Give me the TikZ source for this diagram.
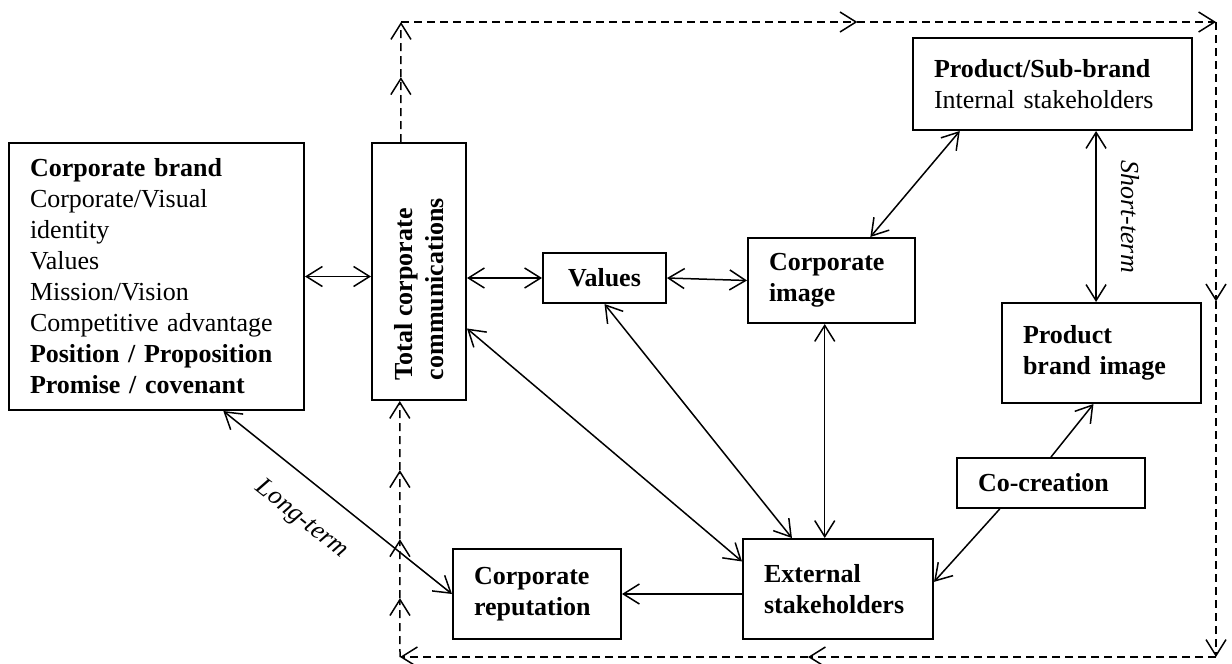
\documentclass[tikz,border=0pt]{standalone}
\usepackage{fontspec}
\setmainfont{Liberation Serif}
\usepackage{graphicx}
\usetikzlibrary{arrows.meta, positioning, calc}
\newcommand\diagfont{\fontsize{13}{15.5}\selectfont}
\tikzset{
    block/.style={rectangle, draw, line width=1pt, inner xsep=10.5pt, inner ysep=0pt, font=\diagfont\bfseries},
    block_text/.style={block, align=left},
    biarrow/.style={{Straight Barb[length=8pt,width=10pt]}-{Straight Barb[length=8pt,width=10pt]}, line width=0.75pt},
    arrow/.style={-{Straight Barb[length=8pt,width=10pt]}, line width=0.75pt},
    dasharrow/.style={arrow, dash pattern=on 4pt off 2.5pt},
    termlabel/.style={font=\diagfont\itshape}
}

\begin{document}
\begin{tikzpicture}[x=0.5pt, y=-0.5pt]
    \useasboundingbox (0,0) rectangle (1232,664);

    \node (brand) [block_text, text width=126.5pt, minimum height=133.5pt] at (156.5,276.5) {Corporate brand\\ \mdseries Corporate/Visual\\ identity\\ Values\\ Mission/Vision\\ Competitive advantage\\ \bfseries Position / Proposition\\ Promise / covenant};
    \node (tcc) [block, inner xsep=0pt, minimum width=47pt, minimum height=128.5pt] at (419,271.5) {\rotatebox{90}{\parbox{108.5pt}{\raggedright Total corporate\\communications}}};
    \node (values) [block, minimum width=61.5pt, minimum height=25pt] at (604.5,278) {Values};
    \node (cimage) [block_text, text width=62.5pt, minimum height=42.5pt] at (831.5,280.5) {Corporate\\image};
    \node (psub) [block_text, text width=118.5pt, minimum height=46pt] at (1052.5,84) {Product/Sub-brand\\ \mdseries Internal stakeholders};
    \node (pbimage) [block_text, text width=78.5pt, minimum height=50pt] at (1101.5,353) {Product\\brand image};
    \node (cocre) [block_text, text width=73pt, minimum height=25pt] at (1051,483) {Co-creation};
    \node (exts) [block_text, text width=74pt, minimum height=50pt] at (838,589) {External\\stakeholders};
    \node (crep) [block_text, text width=63pt, minimum height=45pt] at (537,594) {Corporate\\reputation};

    \draw [biarrow] (brand.east) -- (brand.east -| tcc.west);
    \draw [biarrow] (values.west -| tcc.east) -- (values.west);
    \draw [biarrow] (values.east) -- (cimage.west);
    \draw [biarrow] ($(psub.south west)!0.17!(psub.south east)$) -- ($(cimage.north west)!0.73!(cimage.north east)$);
    \draw [biarrow] ($(psub.south west)!0.655!(psub.south east)$) coordinate (st) -- (st |- pbimage.north) node[midway, rotate=-90, anchor=south, inner sep=12pt, termlabel]{Short-term};
    \draw [biarrow] (values.south) -- ($(exts.north west)!0.26!(exts.north east)$);
    \draw [biarrow] ($(cimage.south west)!0.46!(cimage.south east)$) coordinate (ce) -- (ce |- exts.north);
    \draw [biarrow] ($(tcc.north east)!0.72!(tcc.south east)$) -- ($(exts.north west)!0.23!(exts.south west)$);
    \draw [biarrow] ($(brand.south west)!0.725!(brand.south east)$) -- (crep.west) node[pos=0.44, sloped, below, inner sep=12pt, termlabel]{Long-term};
    \draw [arrow] (crep.east -| exts.west) -- (crep.east);
    \draw [arrow] ($(cocre.south west)!0.23!(cocre.south east)$) -- ($(exts.north east)!0.43!(exts.south east)$);
    \draw [arrow] (cocre.north) -- ($(pbimage.south west)!0.46!(pbimage.south east)$);

    % feedback loop round the picture
    \coordinate (ctop) at ($(tcc.north west)!0.31!(tcc.north east)$);
    \coordinate (cbot) at ($(tcc.south west)!0.30!(tcc.south east)$);
    \coordinate (tl) at (401,22);
    \coordinate (tr) at (1216,22);
    \coordinate (br) at (1216,657);
    \coordinate (bl) at (400,657);
    \coordinate (m1) at ($(ctop)!0.54!(tl)$);
    \coordinate (m2) at ($(tl)!0.56!(tr)$);
    \coordinate (m3) at ($(tr)!0.44!(br)$);
    \coordinate (m4) at ($(br)!0.50!(bl)$);
    \coordinate (m5) at ($(bl)!0.23!(cbot)$);
    \coordinate (m6) at ($(bl)!0.46!(cbot)$);
    \coordinate (m7) at ($(bl)!0.73!(cbot)$);
    \draw [dasharrow] (ctop) -- (m1);
    \draw [dasharrow] (m1) -- (tl);
    \draw [dasharrow] (tl) -- (m2);
    \draw [dasharrow] (m2) -- (tr);
    \draw [dasharrow] (tr) -- (m3);
    \draw [dasharrow] (m3) -- (br);
    \draw [dasharrow] (br) -- (m4);
    \draw [dasharrow] (m4) -- (bl);
    \draw [dasharrow] (bl) -- (m5);
    \draw [dasharrow] (m5) -- (m6);
    \draw [dasharrow] (m6) -- (m7);
    \draw [dasharrow] (m7) -- (cbot);
\end{tikzpicture}
\end{document}
